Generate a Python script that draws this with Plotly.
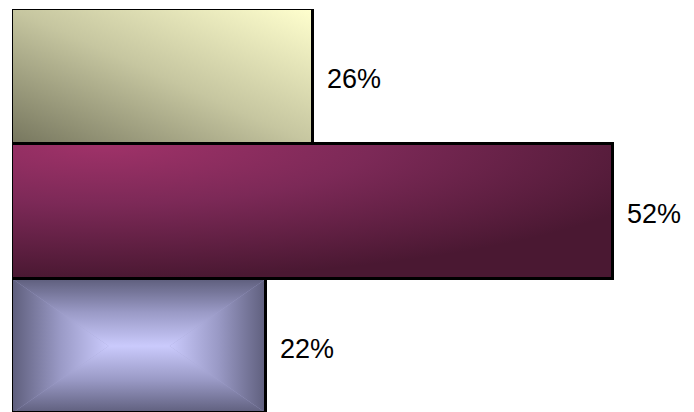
import base64
import plotly.graph_objects as go

# ---- data ----
categories = ["A", "B", "C"]
values = [26, 52, 22]
labels = ["26%", "52%", "22%"]

# ---- gradient fills (SVG, stretched onto each bar) ----
def svg_uri(body):
    svg = ('<svg xmlns="http://www.w3.org/2000/svg" width="100" height="100" '
           'viewBox="0 0 100 100" preserveAspectRatio="none">' + body + '</svg>')
    return "data:image/svg+xml;base64," + base64.b64encode(svg.encode()).decode()

grad_yellow = svg_uri(
    '<defs><linearGradient id="g" x1="0" y1="1" x2="1" y2="0">'
    '<stop offset="0" stop-color="#76765e"/>'
    '<stop offset="0.5" stop-color="#c6c6a0"/>'
    '<stop offset="1" stop-color="#ffffce"/>'
    '</linearGradient></defs>'
    '<rect width="100" height="100" fill="url(#g)"/>'
)

grad_plum = svg_uri(
    '<defs><radialGradient id="g" cx="0.15" cy="0" r="1" fx="0.15" fy="0">'
    '<stop offset="0" stop-color="#a03269"/>'
    '<stop offset="0.45" stop-color="#7c2957"/>'
    '<stop offset="1" stop-color="#4a1832"/>'
    '</radialGradient></defs>'
    '<rect width="100" height="100" fill="url(#g)"/>'
)

stops_lav = ('<stop offset="0" stop-color="#5e5e7c"/>'
             '<stop offset="0.5" stop-color="#9a9ac6"/>'
             '<stop offset="1" stop-color="#cacafc"/>')
grad_lav = svg_uri(
    '<defs>'
    f'<linearGradient id="t" gradientUnits="userSpaceOnUse" x1="0" y1="0" x2="0" y2="50">{stops_lav}</linearGradient>'
    f'<linearGradient id="b" gradientUnits="userSpaceOnUse" x1="0" y1="100" x2="0" y2="50">{stops_lav}</linearGradient>'
    f'<linearGradient id="l" gradientUnits="userSpaceOnUse" x1="0" y1="0" x2="38" y2="0">{stops_lav}</linearGradient>'
    f'<linearGradient id="r" gradientUnits="userSpaceOnUse" x1="100" y1="0" x2="62" y2="0">{stops_lav}</linearGradient>'
    '</defs>'
    '<rect width="100" height="100" fill="#a4a4d0"/>'
    '<polygon points="0,0 100,0 62,50 38,50" fill="url(#t)"/>'
    '<polygon points="0,100 100,100 62,50 38,50" fill="url(#b)"/>'
    '<polygon points="0,0 38,50 0,100" fill="url(#l)"/>'
    '<polygon points="100,0 62,50 100,100" fill="url(#r)"/>'
)
fills = [grad_yellow, grad_plum, grad_lav]

ypos = list(range(len(categories)))

fig = go.Figure(go.Bar(
    x=values, y=ypos, orientation="h", width=1,
    marker=dict(color="rgba(0,0,0,0)", line=dict(color="black", width=3)),
    hoverinfo="skip",
))

for i, (v, src) in enumerate(zip(values, fills)):
    fig.add_layout_image(
        source=src, xref="x", yref="y", x=0, y=ypos[i] - 0.5,
        sizex=v, sizey=1, xanchor="left", yanchor="top",
        sizing="stretch", layer="below",
    )
    fig.add_annotation(
        x=v, y=ypos[i], text=labels[i], showarrow=False,
        xanchor="left", yanchor="middle", xshift=12, yshift=-3,
        font=dict(family="Liberation Sans", size=27, color="black"),
    )

fig.update_layout(
    width=694, height=412,
    margin=dict(l=12, r=0, t=9, b=0),
    paper_bgcolor="white", plot_bgcolor="rgba(0,0,0,0)",
    bargap=0, showlegend=False,
    xaxis=dict(range=[0, 59], visible=False),
    yaxis=dict(range=[2.49, -0.5], visible=False),
)

fig.write_html("out.html")
